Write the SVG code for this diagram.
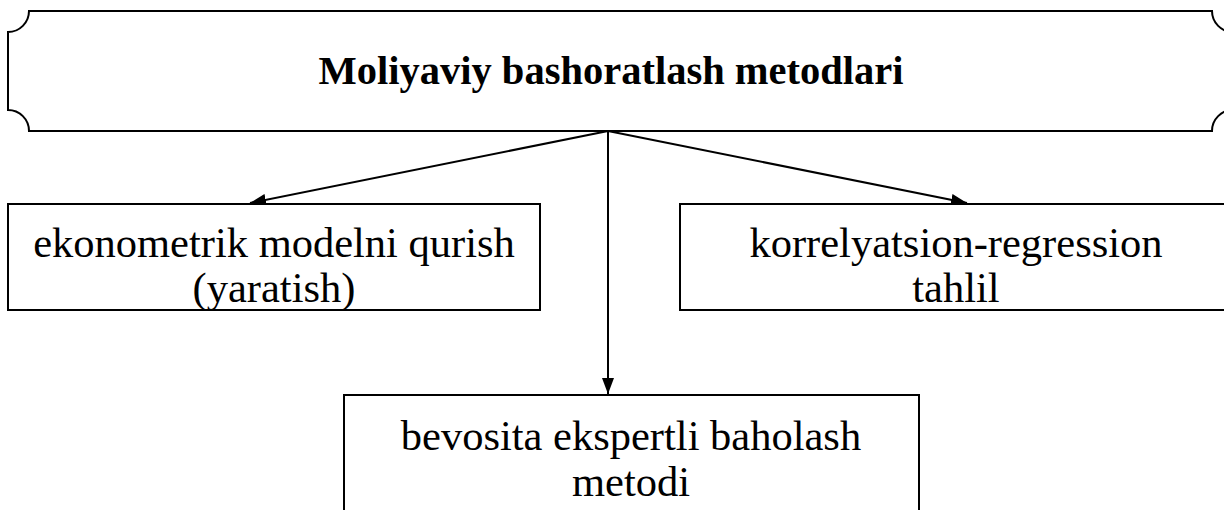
<svg xmlns="http://www.w3.org/2000/svg" width="1224" height="510" viewBox="0 0 1224 510">
<style>
.box{fill:#fff;stroke:#000;stroke-width:2}
.t{font-family:"Liberation Serif","Times New Roman",serif;font-size:42.5px;fill:#000;text-anchor:middle}
.title{font-family:"Liberation Serif","Times New Roman",serif;font-size:40.5px;font-weight:bold;fill:#000;text-anchor:middle}
.c{stroke:#000;stroke-width:2;fill:none;marker-end:url(#ah)}
</style>
<defs>
<marker id="ah" markerUnits="userSpaceOnUse" markerWidth="16" markerHeight="12" refX="16" refY="6" orient="auto">
<path d="M0,0 L16,6 L0,12 Z" fill="#000"/>
</marker>
</defs>
<g id="title">
<path class="box" d="M29,11 H1212 A21,21 0 0 0 1233,32 V110 A21,21 0 0 0 1212,131 H29 A21,21 0 0 0 8,110 V32 A21,21 0 0 0 29,11 Z"/>
<text class="title" x="611" y="84">Moliyaviy bashoratlash metodlari</text>
</g>
<g id="connectors">
<line class="c" x1="608" y1="131" x2="250" y2="203"/>
<line class="c" x1="608" y1="131" x2="967" y2="203"/>
<line class="c" x1="608" y1="131" x2="608" y2="394"/>
</g>
<g id="left">
<rect class="box" x="8" y="204" width="532" height="106"/>
<text class="t" x="274" y="257">ekonometrik modelni qurish</text>
<text class="t" x="274" y="302">(yaratish)</text>
</g>
<g id="right">
<rect class="box" x="680" y="204" width="560" height="106"/>
<text class="t" x="956" y="257">korrelyatsion-regression</text>
<text class="t" x="956" y="302">tahlil</text>
</g>
<g id="bottom">
<rect class="box" x="344" y="395" width="575" height="130"/>
<text class="t" x="631" y="450">bevosita ekspertli baholash</text>
<text class="t" x="631" y="496">metodi</text>
</g>
</svg>
